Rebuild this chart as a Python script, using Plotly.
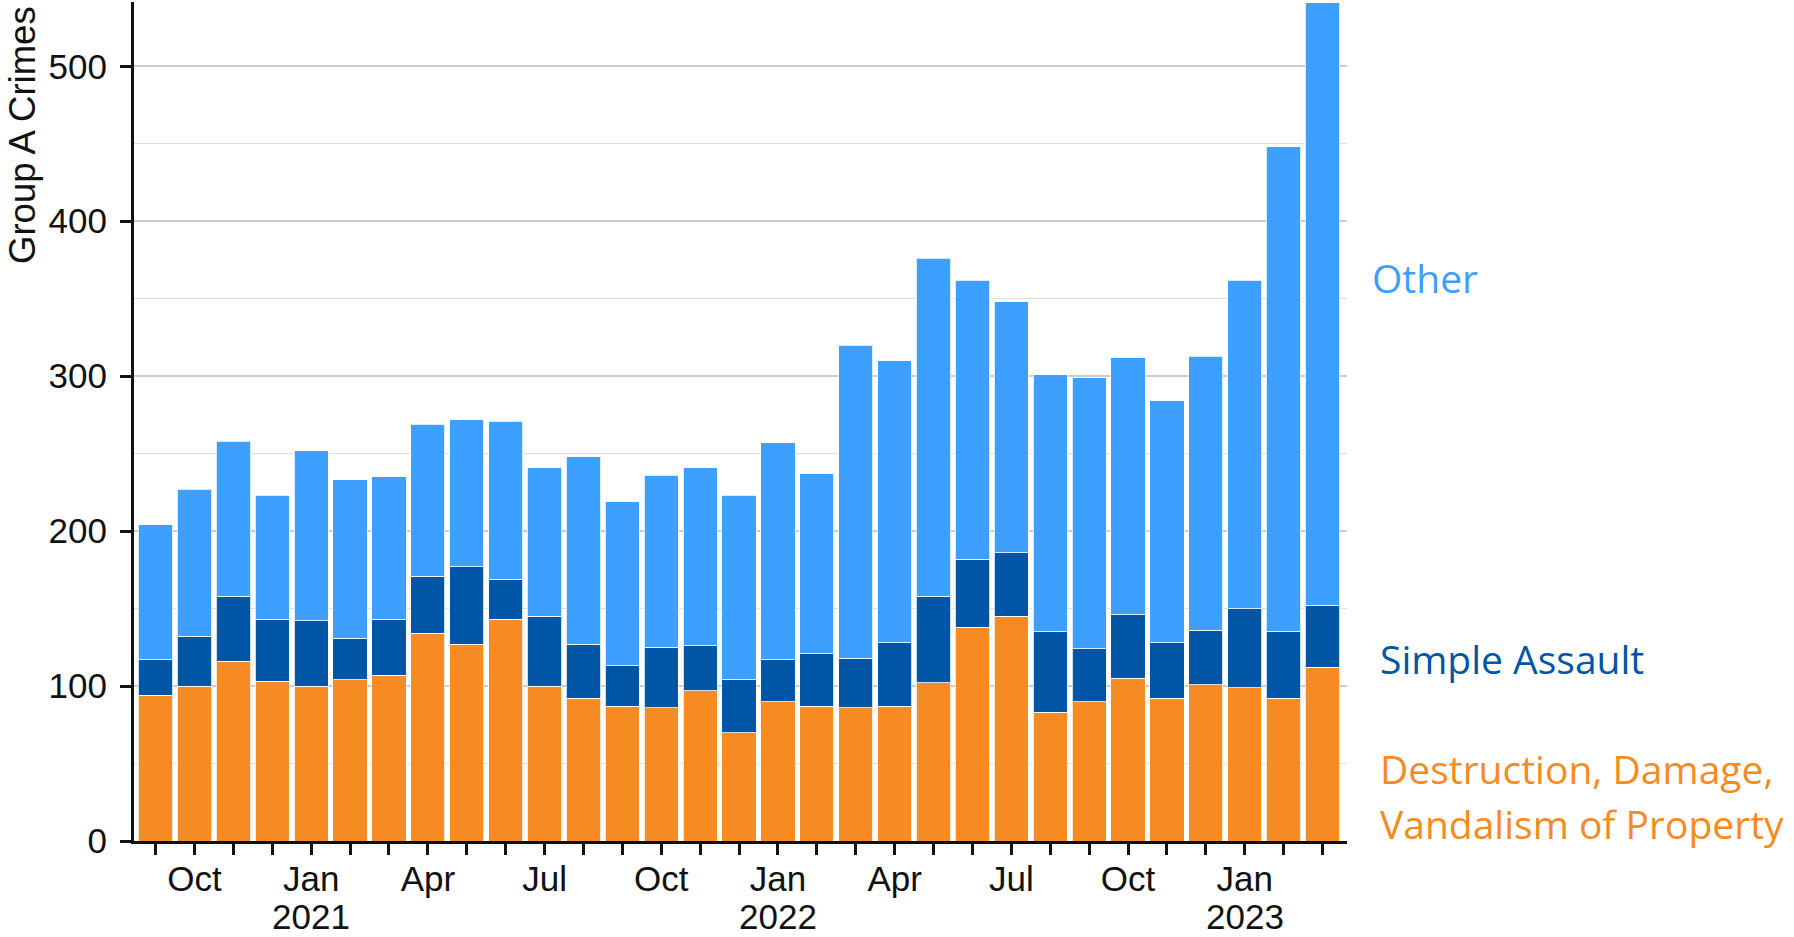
import plotly.graph_objects as go

# monthly counts, Sep 2020 .. Mar 2023
months = [
    "2020-09", "2020-10", "2020-11", "2020-12",
    "2021-01", "2021-02", "2021-03", "2021-04", "2021-05", "2021-06",
    "2021-07", "2021-08", "2021-09", "2021-10", "2021-11", "2021-12",
    "2022-01", "2022-02", "2022-03", "2022-04", "2022-05", "2022-06",
    "2022-07", "2022-08", "2022-09", "2022-10", "2022-11", "2022-12",
    "2023-01", "2023-02", "2023-03",
]
destruction = [94, 100, 116, 103, 100, 104, 107, 134, 127, 143, 100, 92, 87, 86, 97, 70,
               90, 87, 86, 87, 102, 138, 145, 83, 90, 105, 92, 101, 99, 92, 112]
simple_assault = [23, 32, 42, 40, 42, 27, 36, 37, 50, 26, 45, 35, 26, 39, 29, 34,
                  27, 34, 32, 41, 56, 44, 41, 52, 34, 41, 36, 35, 51, 43, 40]
other = [87, 95, 100, 80, 110, 102, 92, 98, 95, 102, 96, 121, 106, 111, 115, 119,
         140, 116, 202, 182, 218, 180, 162, 166, 175, 166, 156, 177, 212, 313, 389]

MONTH_ABBR = {1: "Jan", 4: "Apr", 7: "Jul", 10: "Oct"}

COLORS = {
    "destruction": "#F58B22",
    "assault": "#0055A4",
    "other": "#3EA0FE",
}

AXIS_FONT = dict(family="Liberation Sans, Arial, sans-serif", size=35, color="#111111")
LABEL_FONT = "Open Sans, Noto Sans, sans-serif"

# tick under every month, label only quarter months; years go in a second row
tick_text = []
year_ticks = []
for m in months:
    yr, mo = m.split("-")
    mo = int(mo)
    tick_text.append(MONTH_ABBR.get(mo, ""))
    if mo == 1:
        year_ticks.append((m, yr))

fig = go.Figure()
for name, vals, key in [
    ("Destruction, Damage, Vandalism of Property", destruction, "destruction"),
    ("Simple Assault", simple_assault, "assault"),
    ("Other", other, "other"),
]:
    fig.add_trace(go.Bar(
        x=months,
        y=vals,
        name=name,
        marker_color=COLORS[key],
        marker_line_color="rgba(255,255,255,0.8)",
        marker_line_width=1,
        showlegend=False,
    ))

fig.update_layout(
    barmode="stack",
    bargap=0.12,
    width=1794,
    height=937,
    plot_bgcolor="white",
    paper_bgcolor="white",
    margin=dict(l=134, r=447, t=2, b=96),
    font=AXIS_FONT,
    xaxis=dict(
        type="category",
        range=[-0.555, 30.63],
        tickmode="array",
        tickvals=months,
        ticktext=tick_text,
        ticks="outside",
        ticklen=11,
        tickwidth=2.5,
        tickcolor="#111111",
        showline=True,
        linecolor="#111111",
        linewidth=3,
        showgrid=False,
        tickfont=AXIS_FONT,
        ticklabelstandoff=-6,
        automargin=False,
    ),
    yaxis=dict(
        range=[0, 541.5],
        tickmode="array",
        tickvals=[0, 100, 200, 300, 400, 500],
        ticks="outside",
        ticklen=11,
        tickwidth=2.5,
        tickcolor="#111111",
        showline=True,
        linecolor="#111111",
        linewidth=3,
        showgrid=True,
        gridcolor="#cccccc",
        gridwidth=2,
        zeroline=False,
        tickfont=AXIS_FONT,
        ticklabelstandoff=6,
        automargin=False,
        minor=dict(
            tickmode="array",
            tickvals=[50, 150, 250, 350, 450],
            showgrid=True,
            gridcolor="#dedede",
            gridwidth=1,
            ticks="",
        ),
    ),
)

# year row under the January ticks
for m, yr in year_ticks:
    fig.add_annotation(
        text=yr,
        xref="x", yref="paper",
        x=m, y=-0.09,
        showarrow=False,
        xanchor="center", yanchor="middle",
        font=AXIS_FONT,
    )

# rotated y title sitting at the top of the axis
fig.add_annotation(
    text="Group A Crimes",
    xref="paper", yref="paper",
    x=-0.092, y=0.842,
    textangle=-90,
    showarrow=False,
    font=dict(family="Liberation Sans, Arial, sans-serif", size=36.5, color="#111111"),
    xanchor="center", yanchor="middle",
)

# direct labels on the right
for text, x, y, key in [
    ("Other", 1.019, 0.672, "other"),
    ("Simple Assault", 1.0255, 0.218, "assault"),
    ("Destruction, Damage,", 1.0255, 0.086, "destruction"),
    ("Vandalism of Property", 1.0255, 0.021, "destruction"),
]:
    fig.add_annotation(
        text=text,
        xref="paper", yref="paper",
        x=x, y=y,
        showarrow=False,
        align="left",
        xanchor="left", yanchor="middle",
        font=dict(family=LABEL_FONT, size=39, color=COLORS[key]),
    )

# drop the default page margin so the figure sits at the window's corner
fig.write_html(
    "out.html",
    config={"displayModeBar": False},
    post_script="document.body.style.margin = '0';",
)
